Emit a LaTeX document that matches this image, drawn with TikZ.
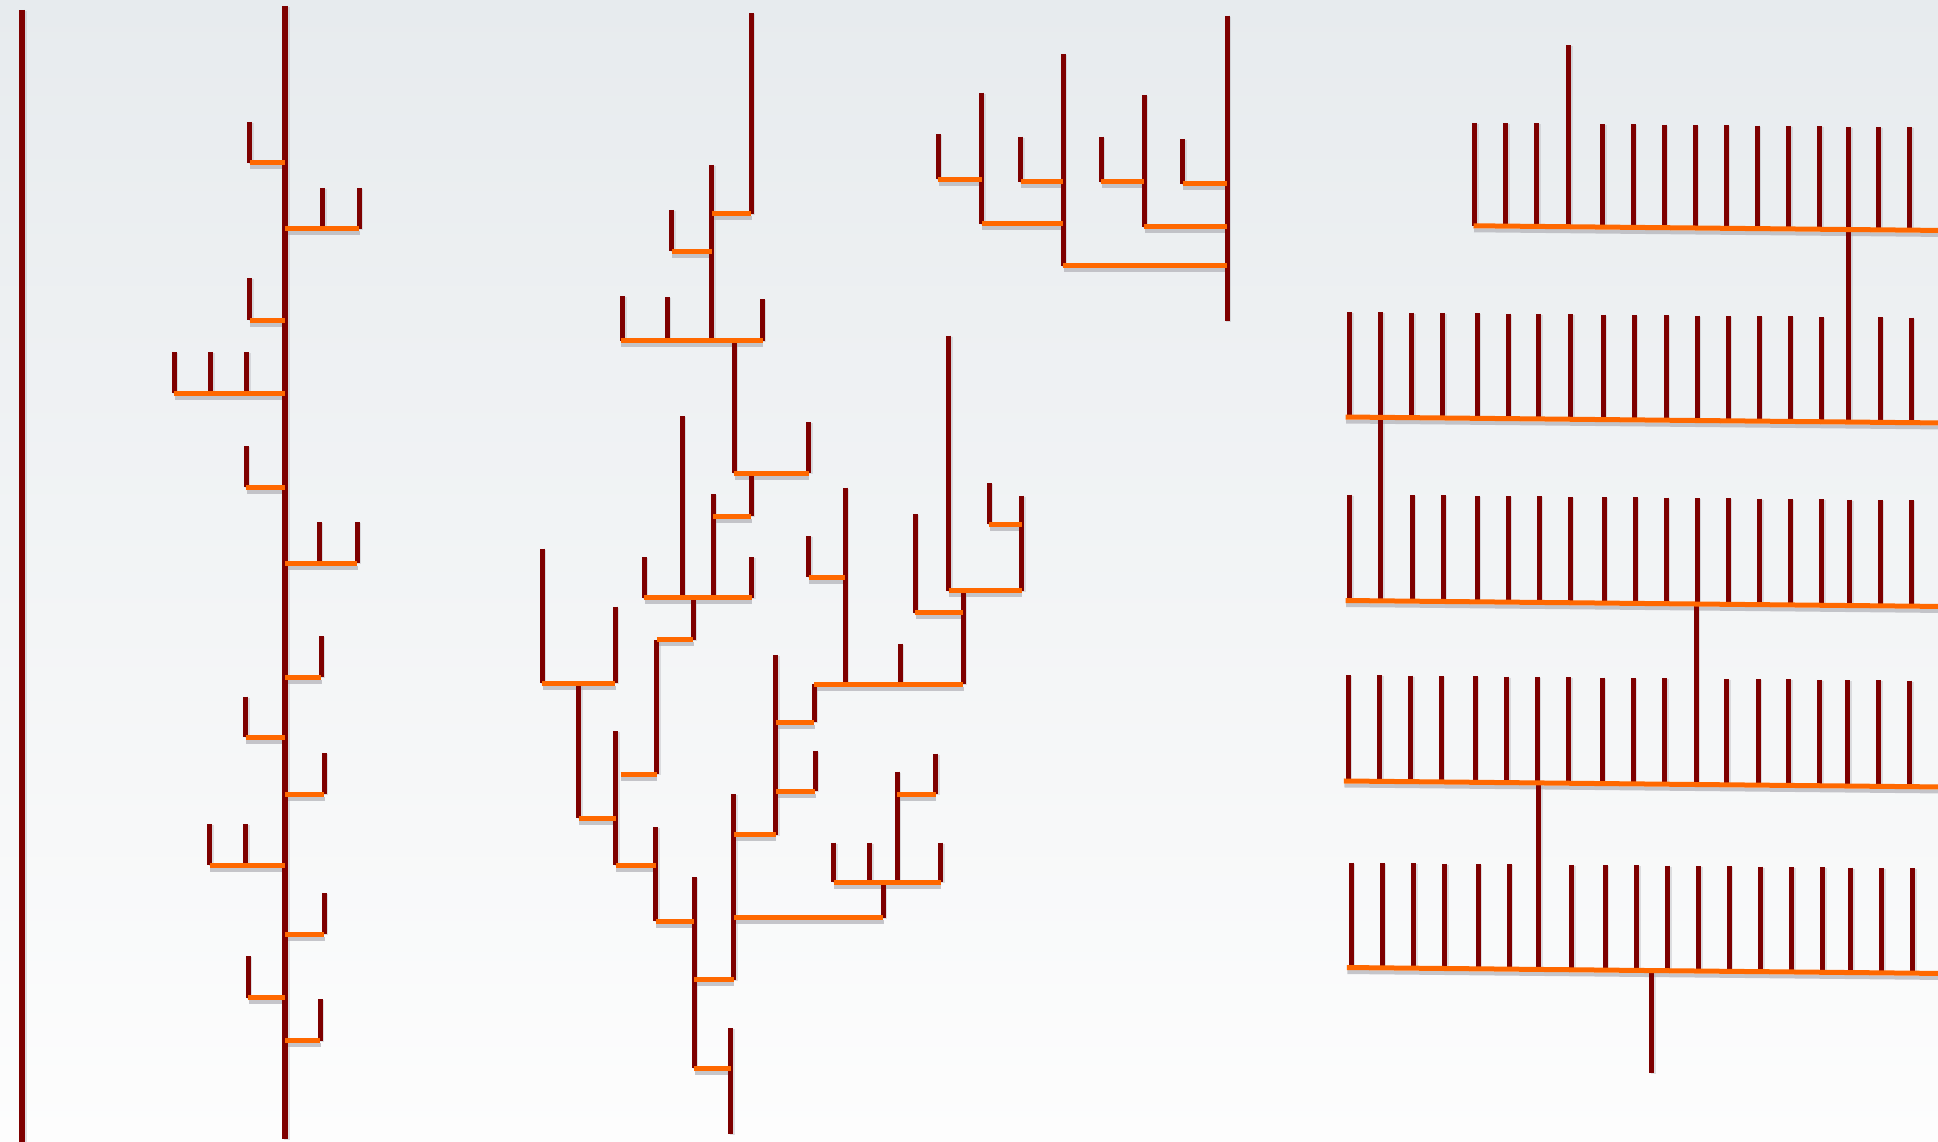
\documentclass[tikz,border=0pt]{standalone}
\definecolor{treered}{RGB}{126,0,0}
\definecolor{treeorange}{RGB}{255,104,0}
\definecolor{shadowgray}{RGB}{180,180,186}
\definecolor{bgtop}{RGB}{231,235,238}
\definecolor{bgmid}{RGB}{244,245,250}
\definecolor{bgbot}{RGB}{253,253,253}
\newcommand\rsegimpl{}
\newcommand\osegimpl{}
\newcommand\rseg[5][5]{\rsegimpl{#1}{#2}{#3}{#4}{#5}}
\newcommand\vseg[4][5]{\rsegimpl{#1}{#2}{#3}{#2}{#4}}
\newcommand\oseg[4]{\osegimpl{#1}{#2}{#3}{#4}}
\newcommand\hseg[3]{\osegimpl{#1}{#3}{#2}{#3}}
% comb row: #1 bar y at x=1345, #2 left end, #3 leaf height, #4 leaf xs
\newcommand\combrow[4]{%
  \foreach \cx in {#4}{\pgfmathsetmacro\cyb{#1+0.01*(\cx-1345)}\pgfmathsetmacro\cyt{\cyb-#3}\vseg{\cx}{\cyt}{\cyb}}%
  \pgfmathsetmacro\cyl{#1+0.01*(#2-1345)}\pgfmathsetmacro\cyr{#1+0.01*(1940-1345)}%
  \oseg{#2}{\cyl}{1940}{\cyr}}
\newcommand\combconn[3]{%
  \pgfmathsetmacro\cya{#2+0.01*(#1-1345)}\pgfmathsetmacro\cyz{#3+0.01*(#1-1345)}\vseg{#1}{\cya}{\cyz}}
\newcommand\treeitems{%
  % far left line
  \vseg[6.5]{22}{10}{1145}
  % ---------- left tree ----------
  \vseg[6]{285}{6}{1139}
  \vseg{249.7}{122}{163}\hseg{249.7}{285}{163}
  \vseg{322.7}{188}{229}\vseg{359}{188}{229}\hseg{285}{359}{229}
  \vseg{249.7}{278}{320}\hseg{249.7}{285}{320}
  \vseg{174.3}{352}{393}\vseg{210.7}{352}{393}\vseg{246.7}{352}{393}\hseg{174.3}{285}{393}
  \vseg{246}{446}{487}\hseg{246}{285}{487}
  \vseg{319}{522}{563}\vseg{357}{522}{563}\hseg{285}{357}{563}
  \vseg{321}{636}{677}\hseg{285}{321}{677}
  \vseg{245.7}{696.5}{737}\hseg{245.7}{285}{737}
  \vseg{324}{753}{794}\hseg{285}{324}{794}
  \vseg{209.7}{824}{865}\vseg{245.7}{824}{865}\hseg{209.7}{285}{865}
  \vseg{324}{893}{934}\hseg{285}{324}{934}
  \vseg{248}{956}{997.5}\hseg{248}{285}{997.5}
  \vseg{320}{999}{1040.6}\hseg{285}{320}{1040.6}
  % ---------- middle tree ----------
  \vseg{751.4}{13}{214}\hseg{711.6}{751.4}{214}
  \vseg{711.6}{165}{340.7}
  \vseg{671.7}{210}{251}\hseg{671.7}{711.6}{251}
  \vseg{622.7}{296}{340.7}\vseg{667.3}{297}{340.7}\vseg{762}{299}{340.7}
  \hseg{620.7}{762.6}{340.7}
  \vseg{734.2}{340.7}{473}\hseg{734.2}{808.9}{473}\vseg{808.9}{422}{473}
  \vseg{751}{473}{516}\hseg{713}{751}{516}
  \vseg{713}{494}{597.6}
  \vseg{644}{557}{597.6}\vseg{682}{416}{597.6}\vseg{751.8}{557}{597.6}
  \hseg{644}{751.8}{597.6}
  \vseg{693}{597.6}{639.5}\hseg{656.8}{693}{639.5}
  \vseg{656.8}{639.5}{774}\hseg{620.7}{656.8}{774}
  \vseg{542}{548.6}{683.3}\vseg{615.3}{606.5}{683.3}\hseg{542}{615.3}{683.3}
  \vseg{578.8}{683.3}{818}\hseg{578.8}{615.6}{818}
  \vseg{615.6}{731}{865.4}\hseg{615.6}{655.5}{865.4}
  \vseg{655.5}{827}{921}\hseg{655.5}{694}{921}
  \vseg{694}{877}{1068}\hseg{694}{730.5}{1068}
  \vseg{730.5}{1028.4}{1134}
  \vseg{733.9}{794}{980}\hseg{694}{733.9}{979.5}
  \hseg{733.9}{883}{917.5}\vseg{883}{882}{917.5}
  \vseg{833.5}{842.5}{882}\vseg{869.7}{842.5}{882}\vseg{897.4}{771.7}{882}\vseg{940.6}{842.5}{882}
  \hseg{833.5}{940.6}{882}
  \vseg{935.9}{753.7}{794}\hseg{897.4}{935.9}{794}
  \vseg{775.7}{654.8}{834.5}\hseg{733.9}{775.7}{834.5}
  \vseg{814}{684}{722}\hseg{775.7}{814}{722}
  \vseg{815.3}{750.6}{791.4}\hseg{775.7}{815.3}{791.4}
  \vseg{845.3}{487.7}{684}\vseg{900.4}{643.5}{684}\vseg{963}{590.5}{684}
  \hseg{814}{963}{684}
  \vseg{808.5}{536}{577}\hseg{808.5}{845.3}{577}
  \vseg{915}{514}{612.8}\hseg{915}{963}{612.8}
  \vseg{948.7}{335.6}{590.5}\vseg{1021.7}{495.6}{590.5}\hseg{948.7}{1021.7}{590.5}
  \vseg{989}{483}{524}\hseg{989}{1021.7}{524}
  % ---------- upper tree ----------
  \vseg{1227.3}{15.7}{320.7}
  \vseg{1063.3}{54}{265.7}\hseg{1063.3}{1227.3}{265.7}
  \vseg{981.7}{92.7}{224}\hseg{981.7}{1063.3}{224}
  \vseg{938.3}{134.3}{179.3}\hseg{938.3}{981.7}{179.3}
  \vseg{1020.7}{136.7}{181.7}\hseg{1020.7}{1063.3}{181.7}
  \vseg{1144}{95}{226.7}\hseg{1144}{1227.3}{226.7}
  \vseg{1101}{136.7}{181.7}\hseg{1101}{1144}{181.7}
  \vseg{1182.7}{139}{184}\hseg{1182.7}{1227.3}{184}
  % ---------- combs ----------
  \vseg{1568.5}{45.5}{226.7}
  \combconn{1848.7}{224.5}{417}
  \combconn{1380.5}{417}{600.5}
  \combconn{1696}{600.5}{781}
  \combconn{1538.5}{781}{967.5}
  \pgfmathsetmacro\cyq{967.5+0.01*(1651.5-1345)}\vseg{1651.5}{\cyq}{1073}
  \combrow{224.5}{1473.5}{103}{1474.5,1505.5,1536.8,1602.7,1633,1664,1695,1726,1757,1788.7,1819.6,1848.7,1878.8,1909.7}
  \combrow{417}{1345.7}{105}{1349.6,1380.7,1411.8,1442.7,1477,1508,1538.8,1570.5,1603.3,1634.4,1666,1697,1728,1759,1790,1821.2,1880,1911.2}
  \combrow{600.5}{1345.7}{106}{1349.9,1412,1443,1477,1508.2,1539,1570,1604,1635,1666,1697,1728,1759.5,1790.4,1821.7,1849.5,1880.4,1911.3}
  \combrow{781}{1343.8}{106}{1348.4,1379.7,1410.6,1441.4,1475.4,1506.7,1537.2,1568.5,1602.4,1633.3,1664.6,1726.7,1758,1788.9,1819.8,1847.6,1878.5,1909.8}
  \combrow{967.5}{1346.9}{105}{1351.4,1382.3,1413.6,1444.5,1478.4,1509.3,1571.5,1605.4,1636.7,1667.6,1698.9,1729.4,1760.7,1791.6,1822.8,1850.7,1881.6,1912.8}
}
\begin{document}
\begin{tikzpicture}[x=1pt,y=-1pt,line cap=butt]
\useasboundingbox (0,0) rectangle (1938,1142);
\shade[top color=bgtop, middle color=bgmid, bottom color=bgbot] (0,0) rectangle (1938,1142);
% pass 1: shadows
\def\rsegimpl#1#2#3#4#5{\draw[line width=#1pt,draw=shadowgray,opacity=.4] ({#2+1.5},{#3+1}) -- ({#4+1.5},{#5+1});}
\def\osegimpl#1#2#3#4{\draw[line width=4pt,draw=shadowgray,opacity=.75] ({#1+0.5},{#2+4.5}) -- ({#3+0.5},{#4+4.5});}
\treeitems
% pass 2: red
\def\rsegimpl#1#2#3#4#5{\draw[line width=#1pt,draw=treered] (#2,#3) -- (#4,#5);}
\def\osegimpl#1#2#3#4{}
\treeitems
% pass 3: orange
\def\rsegimpl#1#2#3#4#5{}
\def\osegimpl#1#2#3#4{\draw[line width=5pt,draw=treeorange] (#1,#2) -- (#3,#4);}
\treeitems
\end{tikzpicture}
\end{document}
